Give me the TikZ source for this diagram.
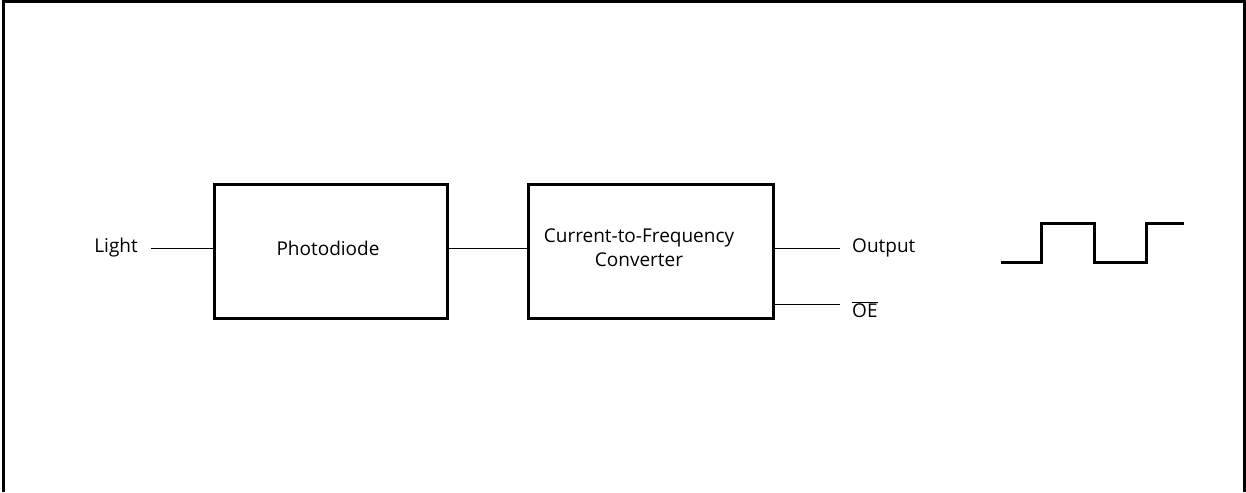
\documentclass[tikz,border=0pt]{standalone}
\usepackage{fontspec}
\setmainfont{Open Sans}
\begin{document}
\begin{tikzpicture}[x=1pt,y=-1pt,
  blk/.style={draw,line width=3pt,minimum width=233pt,minimum height=134pt,inner sep=0pt,align=center},
  lbl/.style={inner sep=0pt,font=\fontsize{19}{24}\selectfont},
  wire/.style={line width=1pt}]
\useasboundingbox (0,0) rectangle (1246,492);
\draw[line width=3pt] (3,492) -- (3,1.5) -- (1244.5,1.5) -- (1244.5,492);
\node[blk] (pd) at (330.5,251) {};
\node[lbl] (pdt) at (328,248) {Photodiode};
\node[blk,minimum width=245pt] (cf) at (650.5,251) {};
\node[lbl,align=center] (cft) at (639,248) {Current-to-Frequency\\Converter};
\node[lbl,anchor=east] (light) at (138,248) {Light};
\coordinate (lin) at (151,248);
\draw[wire] (lin) -- (pd.west |- lin);
\draw[wire] (pd.east |- lin) -- (cf.west |- lin);
\coordinate (outc) at (840,248);
\coordinate (oec) at (840,304);
\draw[wire] (cf.east |- outc) -- (outc);
\draw[wire] (cf.east |- oec) -- (oec);
\node[lbl,anchor=west] (out) at (852,248) {Output};
\node[lbl,anchor=west] (oe) at (852,310) {$\overline{\mbox{OE}}$};
\draw[line width=3pt] (1001,262) -- (1041,262) -- (1041,223) -- (1094,223) -- (1094,262) -- (1146,262) -- (1146,223) -- (1184,223);
\end{tikzpicture}
\end{document}
